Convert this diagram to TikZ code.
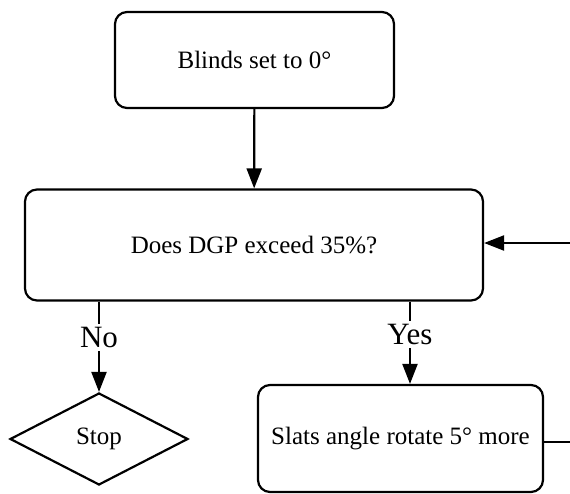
\documentclass[tikz,border=0pt]{standalone}
\usepackage{fontspec}
\setmainfont{Liberation Serif}
\usetikzlibrary{shapes.geometric,arrows.meta}
\begin{document}
\begin{tikzpicture}
[
    x=0.5pt, y=-0.5pt,
    font=\fontsize{12.5}{15}\selectfont,
    process/.style={draw, line width=1.1pt, rounded corners=6pt},
    decision/.style={draw, diamond, line width=1.1pt, inner sep=0pt},
    flow/.style={draw, line width=1.1pt, -{Triangle[length=10pt,width=7.5pt]}},
    lbl/.style={fill=white, inner sep=1.5pt, font=\fontsize{15.5}{18}\selectfont}
]
    \useasboundingbox (0,0) rectangle (570,494);
    \node [process, minimum width=139.5pt, minimum height=48pt] (blinds) at (254.5,60) {Blinds set to 0°};
    \node [process, minimum width=229pt, minimum height=55.5pt] (dgp) at (254,245) {Does DGP exceed 35\%?};
    \node [decision, minimum width=89pt, minimum height=46pt] (stop) at (99,439) {Stop};
    \node [process, minimum width=142.5pt, minimum height=53.5pt] (slats) at (400.5,438.5) {Slats angle rotate 5° more};
    \coordinate (yes) at (410,0);
    \coordinate (loopin) at (570,243);
    \coordinate (loopout) at (570,442);

    \draw [flow] (blinds) -- (dgp);
    \draw [flow] (dgp.south -| stop.north) -- node [lbl, pos=0.4] {No} (stop.north);
    \draw [flow] (dgp.south -| yes) -- node [lbl, pos=0.4] {Yes} (slats.north -| yes);
    \draw [line width=1.1pt] (slats.east |- loopout) -- (loopout);
    \draw [flow] (loopin) -- (dgp.east |- loopin);
\end{tikzpicture}
\end{document}
